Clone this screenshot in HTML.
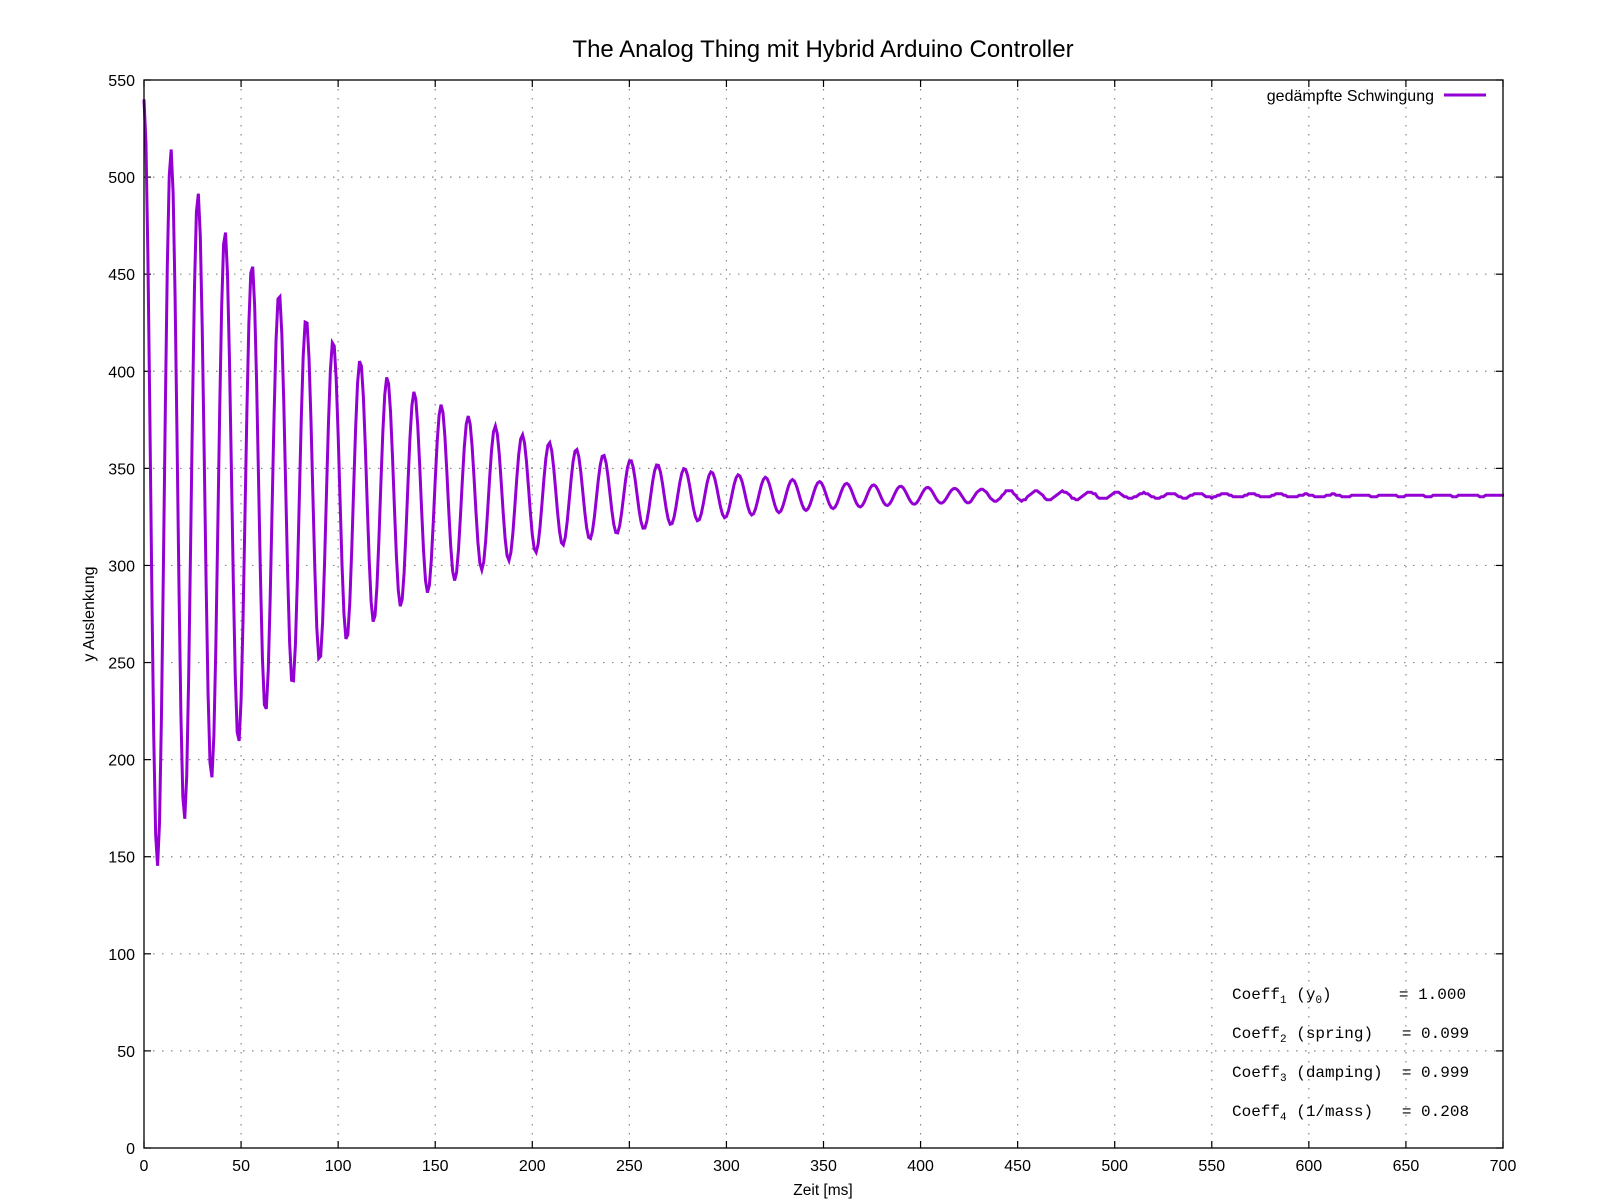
<!DOCTYPE html>
<html><head><meta charset="utf-8"><style>
html,body{margin:0;padding:0;background:#fff;}
svg{display:block;font-family:"Liberation Sans",sans-serif;}
</style></head><body>
<svg id="s" width="1600" height="1200" viewBox="0 0 1600 1200" xmlns="http://www.w3.org/2000/svg">
<rect width="1600" height="1200" fill="#fff"/>
<g id="grid" stroke="#888" stroke-width="1.2" stroke-dasharray="1.5,7.5"></g>
<g id="ticks" stroke="#000" stroke-width="1.2"></g>
<g id="labels" font-size="16" fill="#000"></g>
<path id="curve" fill="none" stroke="#9400d3" stroke-width="3" stroke-linejoin="miter"/>
<rect x="144" y="80" width="1359" height="1068" fill="none" stroke="#000" stroke-width="1.3"/>
<text x="823" y="57" font-size="24" text-anchor="middle">The Analog Thing mit Hybrid Arduino Controller</text>
<text x="823" y="1195" font-size="15.5" text-anchor="middle">Zeit [ms]</text>
<text transform="translate(94,614) rotate(-90)" font-size="16" text-anchor="middle">y Auslenkung</text>
<text x="1434" y="101" font-size="16" text-anchor="end">gedämpfte Schwingung</text>
<line x1="1444" y1="95" x2="1486" y2="95" stroke="#9400d3" stroke-width="3"/>
<g font-family="Liberation Mono, monospace" font-size="16" fill="#000">
<text x="1232" y="999">Coeff<tspan font-size="11" dy="4">1</tspan><tspan dy="-4">&#160;(y</tspan><tspan font-size="11" dy="4">0</tspan><tspan dy="-4">)&#160;&#160;&#160;&#160;&#160;&#160;&#160;=&#160;1.000</tspan></text>
<text x="1232" y="1038">Coeff<tspan font-size="11" dy="4">2</tspan><tspan dy="-4">&#160;(spring)&#160;&#160;&#160;=&#160;0.099</tspan></text>
<text x="1232" y="1077">Coeff<tspan font-size="11" dy="4">3</tspan><tspan dy="-4">&#160;(damping)&#160;&#160;=&#160;0.999</tspan></text>
<text x="1232" y="1116">Coeff<tspan font-size="11" dy="4">4</tspan><tspan dy="-4">&#160;(1/mass)&#160;&#160;&#160;=&#160;0.208</tspan></text>
</g>
</svg>
<script>
(function(){
var L=144,R=1503,T=80,B=1148,NS="http://www.w3.org/2000/svg";
function X(t){return L+(R-L)*t/700;}
function Y(v){return B-(B-T)*v/550;}
var g=document.getElementById('grid'),tk=document.getElementById('ticks'),lb=document.getElementById('labels');
function el(p,n,a,txt){var e=document.createElementNS(NS,n);for(var k in a)e.setAttribute(k,a[k]);if(txt!==undefined)e.textContent=txt;p.appendChild(e);}
for(var t=0;t<=700;t+=50){var x=X(t);
 if(t>0&&t<700)el(g,'line',{x1:x,y1:T,x2:x,y2:B});
 el(tk,'line',{x1:x,y1:B,x2:x,y2:B-7});el(tk,'line',{x1:x,y1:T,x2:x,y2:T+7});
 el(lb,'text',{x:x,y:B+23,'text-anchor':'middle'},String(t));}
for(var v=0;v<=550;v+=50){var y=Y(v);
 if(v>0&&v<550)el(g,'line',{x1:L,y1:y,x2:R,y2:y});
 el(tk,'line',{x1:L,y1:y,x2:L+7,y2:y});el(tk,'line',{x1:R,y1:y,x2:R-7,y2:y});
 el(lb,'text',{x:L-9,y:y+6,'text-anchor':'end'},String(v));}
var d='';
for(var t=0;t<=701;t+=1){
 var val=336+204*Math.exp(-t/104)*Math.cos(2*Math.PI*t/13.92);
 if(t>420)val=Math.round(val*1.3)/1.3;
 d+=(t?'L':'M')+X(Math.min(t,700.5)).toFixed(2)+','+Y(val).toFixed(2);
}
document.getElementById('curve').setAttribute('d',d);
})();
</script>
</body></html>
